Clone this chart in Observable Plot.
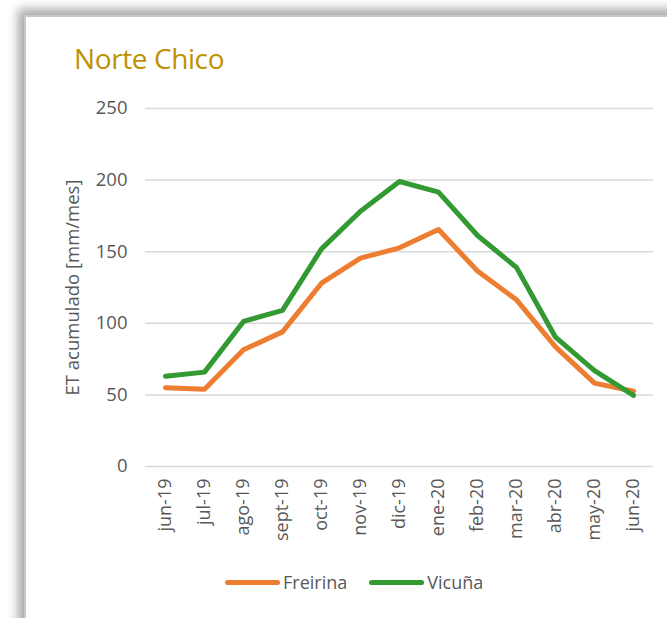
<!DOCTYPE html>
<html>
<head>
<meta charset="utf-8">
<script src="https://cdn.jsdelivr.net/npm/d3@7"></script>
<script src="https://cdn.jsdelivr.net/npm/@observablehq/plot@0.6"></script>
<style>
  html, body { margin: 0; padding: 0; background: #fff; }
  body { width: 667px; height: 618px; position: relative; overflow: hidden; font-family: "Open Sans", sans-serif; }
  #frame { position: absolute; left: 24px; top: 15px; width: 700px; height: 700px; border-left: 2px solid #c8c8c8; border-top: 2px solid #c8c8c8; box-shadow: -6px -6px 10px rgba(0,0,0,0.35); background: #fff; }
  #title { position: absolute; left: 74px; top: 39px; font-size: 28px; color: #BF9000; letter-spacing: -0.4px; }
  #chart { position: absolute; left: 0; top: 0; }
  #legend { position: absolute; top: 570px; left: 225px; display: flex; font-size: 18px; color: #595959; }
  .item { display: flex; align-items: center; margin-right: 22px; }
  .sw { width: 55px; height: 5px; border-radius: 3px; margin-right: 3px; }
</style>
</head>
<body>
<div id="frame"></div>
<div id="title">Norte Chico</div>
<div id="chart"></div>
<div id="legend"></div>
<script>
const months = ["jun-19","jul-19","ago-19","sept-19","oct-19","nov-19","dic-19","ene-20","feb-20","mar-20","abr-20","may-20","jun-20"];
const freirina = [55, 54, 81.5, 94, 128, 145.5, 152.7, 165.5, 136.5, 116.4, 83.5, 58.2, 52.5];
const vicuna = [63, 65.9, 101.3, 109, 152, 178.3, 199, 191.6, 161.3, 139, 90.3, 67, 49.6];
const yTicks = [0, 50, 100, 150, 200, 250];
const seriesNames = ["Freirina", "Vicuña"];
const seriesColors = ["#ED7D31", "#339933"];

const data = [];
months.forEach((m, i) => {
  data.push({month: m, value: freirina[i], series: seriesNames[0]});
  data.push({month: m, value: vicuna[i], series: seriesNames[1]});
});

const chart = Plot.plot({
  width: 667,
  height: 560,
  marginLeft: 145,
  marginRight: 14,
  marginTop: 108,
  marginBottom: 94,
  style: {fontFamily: "Open Sans, sans-serif", fontSize: "17.5px", color: "#595959", background: "transparent", overflow: "visible"},
  x: {type: "point", domain: months, padding: 0.5},
  y: {domain: [0, 250], ticks: yTicks},
  color: {domain: seriesNames, range: seriesColors},
  marks: [
    Plot.gridY(yTicks, {stroke: "#d9d9d9", strokeOpacity: 1, strokeWidth: 1.5}),
    Plot.axisY(yTicks, {tickSize: 0, tickPadding: 18, fontSize: 18.5, fill: "#595959", label: "ET acumulado [mm/mes]", labelAnchor: "center", labelArrow: "none", labelOffset: 80}),
    Plot.axisX({tickSize: 0, tickPadding: 12, tickRotate: -90, fontSize: 18, fill: "#595959", label: null}),
    Plot.line(data, {x: "month", y: "value", z: "series", stroke: "series", strokeWidth: 5, strokeLinejoin: "round", strokeLinecap: "round"})
  ]
});
document.getElementById("chart").appendChild(chart);

const legend = document.getElementById("legend");
seriesNames.forEach((n, i) => {
  const it = document.createElement("div");
  it.className = "item";
  const sw = document.createElement("div");
  sw.className = "sw";
  sw.style.background = seriesColors[i];
  const t = document.createElement("span");
  t.textContent = n;
  it.appendChild(sw);
  it.appendChild(t);
  legend.appendChild(it);
});
</script>
</body>
</html>
